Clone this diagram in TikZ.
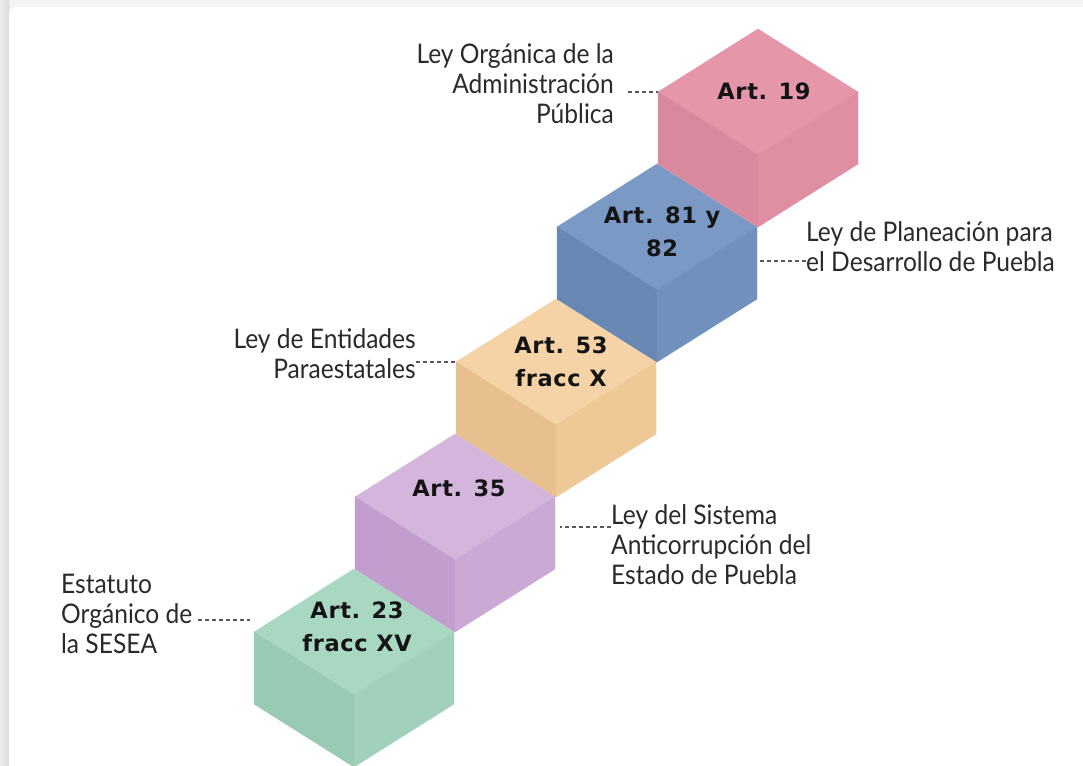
\documentclass[tikz,border=0pt]{standalone}
\usepackage{fontspec}
\setmainfont{Lato}[FakeStretch=0.91]
\newfontfamily\artfont{DejaVu Sans}[LetterSpace=3]
\definecolor{pinkT}{HTML}{E597A9}
\definecolor{pinkL}{HTML}{D9899D}
\definecolor{pinkR}{HTML}{E08EA2}
\definecolor{blueT}{HTML}{7A99C4}
\definecolor{blueL}{HTML}{6887B2}
\definecolor{blueR}{HTML}{7190BB}
\definecolor{orT}{HTML}{F5D3A6}
\definecolor{orL}{HTML}{E8BF8E}
\definecolor{orR}{HTML}{EFC898}
\definecolor{puT}{HTML}{D4B6DD}
\definecolor{puL}{HTML}{C19ECD}
\definecolor{puR}{HTML}{CAA9D5}
\definecolor{grT}{HTML}{A9D8C2}
\definecolor{grL}{HTML}{99CAB3}
\definecolor{grR}{HTML}{A2D1BB}
\definecolor{txt}{HTML}{2A2A2A}
\definecolor{bgout}{HTML}{F3F3F3}
\newcommand\drawcube[6]{%
  \begin{scope}[shift={(#2,#3)}]
    \filldraw[fill=#4,draw=#4,line width=0.4pt] (0,-63) -- (-100,0) -- (0,63) -- (100,0) -- cycle;
    \filldraw[fill=#5,draw=#5,line width=0.4pt] (-100,0) -- (0,63) -- (0,135) -- (-100,72) -- cycle;
    \filldraw[fill=#6,draw=#6,line width=0.4pt] (0,63) -- (100,0) -- (100,72) -- (0,135) -- cycle;
    \coordinate (#1L) at (-100,0);
    \coordinate (#1R) at (100,0);
  \end{scope}}
\tikzset{
  lawlabel/.style={text=txt,font=\fontsize{27}{30}\selectfont,inner sep=0pt},
  artlabel/.style={text=black!92,font=\artfont\bfseries\fontsize{22.5}{33}\selectfont,align=center,inner sep=0pt},
  dashline/.style={draw=black!65,line width=1.1pt,dash pattern=on 4pt off 3pt}
}
\begin{document}
\begin{tikzpicture}[x=1pt,y=-1pt]
\useasboundingbox (0,0) rectangle (1083,765);
\clip (0,0) rectangle (1083,765);
\fill[bgout] (0,0) rectangle (1083,765);
\shade[left color=black!8,right color=black!14] (0,0) rectangle (9,765);
\fill[white,rounded corners=8pt] (9,7) rectangle (1110,800);

% cubes
\drawcube{green}{354}{632}{grT}{grL}{grR}
\drawcube{purple}{455}{497}{puT}{puL}{puR}
\drawcube{orange}{556}{362}{orT}{orL}{orR}
\drawcube{blue}{657}{227}{blueT}{blueL}{blueR}
\drawcube{pink}{758}{92}{pinkT}{pinkL}{pinkR}

% article labels
\node[artlabel] (a19) at (764,91) {Art. 19};
\node[artlabel] (a81) at (662,232) {Art. 81 y\\82};
\node[artlabel] (a53) at (561,362) {Art. 53\\fracc X};
\node[artlabel] (a35) at (459,488) {Art. 35};
\node[artlabel] (a23) at (357,627) {Art. 23\\fracc XV};

% law labels
\node[lawlabel,align=right,anchor=east] (l1) at (614,84) {Ley Orgánica de la\\Administración\\Pública};
\node[lawlabel,align=left,anchor=west] (l2) at (806,247) {Ley de Planeación para\\el Desarrollo de Puebla};
\node[lawlabel,align=right,anchor=east] (l3) at (416,354) {Ley de Entidades\\Paraestatales};
\node[lawlabel,align=left,anchor=west] (l4) at (611,545) {Ley del Sistema\\Anticorrupción del\\Estado de Puebla};
\node[lawlabel,align=left,anchor=west] (l5) at (61,614) {Estatuto\\Orgánico de\\la SESEA};

% dashed connectors
\coordinate (e5) at (250,620);
\coordinate (e4) at (560,527);
\coordinate (e2) at (760,261);
\draw[dashline] ([xshift=14pt]l1.east |- pinkL) -- (pinkL);
\draw[dashline] (l2.west |- e2) -- (e2);
\draw[dashline] (l3.east |- orangeL) -- (orangeL);
\draw[dashline] (l4.west |- e4) -- (e4);
\draw[dashline] ([xshift=-52pt]e5) -- (e5);
\end{tikzpicture}
\end{document}
